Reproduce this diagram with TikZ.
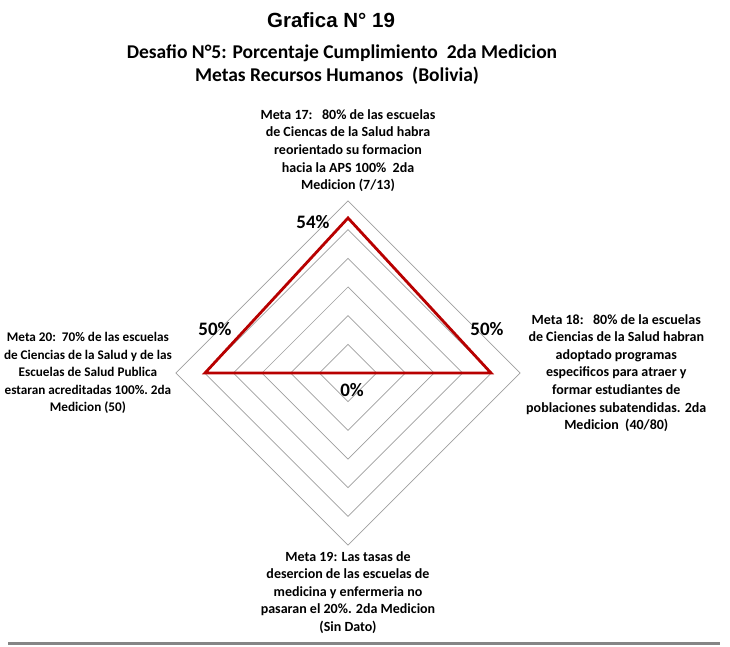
\documentclass[tikz,border=0pt]{standalone}
\usepackage{fontspec}
\setmainfont{Carlito}
\newfontfamily\arialfont{Liberation Sans}
\usetikzlibrary{positioning}

\begin{document}
\begin{tikzpicture}[x=1pt,y=-1pt,
            meta/.style={align=center, inner sep=0pt, font=\bfseries\fontsize{14}{17.6}\selectfont},
            valor/.style={inner sep=0pt, font=\bfseries\fontsize{19}{20}\selectfont},
            anillo/.style={draw=black!38, line width=0.7pt},
            serie/.style={draw=red!72!black, line width=2.8pt, line join=miter},
            titulo/.style={inner sep=0pt, font=\bfseries\fontsize{19.5}{22}\selectfont}
  ]
  \useasboundingbox (0,0) rectangle (730,647);

  % titulos
  \node[inner sep=0pt, font=\arialfont\bfseries\fontsize{20.5}{22}\selectfont] (grafica) at (331,20) {Grafica N° 19};
  \node[titulo] (desafio) at (342,53) {Desafio N°5: Porcentaje Cumplimiento\ \ 2da Medicion};
  \node[titulo] (metas) at (337,76) {Metas Recursos Humanos\ \ (Bolivia)};

  % anillos del radar
  \foreach \r in {1,...,6}
    \draw[anillo] (348,373-28.67*\r) -- (348+28.67*\r,373) -- (348,373+28.67*\r) -- (348-28.67*\r,373) -- cycle;

  \coordinate (norte) at (348,201);
  \coordinate (este) at (520,373);
  \coordinate (sur) at (348,545);
  \coordinate (oeste) at (176,373);

  % serie 2da medicion
  \coordinate (m17) at (348,218);
  \coordinate (m18) at (491,373);
  \coordinate (m19) at (348,373);
  \coordinate (m20) at (205,373);
  \draw[serie] (m17) -- (m18) -- (m19) -- (m20) -- cycle;

  \node[valor] (v17) at (313,222) {54\%};
  \node[valor] (v18) at (487,329) {50\%};
  \node[valor] (v19) at (352,390) {0\%};
  \node[valor] (v20) at (215,329) {50\%};

  % metas
  \node[meta] (meta17) [above=9pt of norte] {Meta 17:\ \ \ 80\% de las escuelas\\de Ciencas de la Salud habra\\reorientado su formacion\\hacia la APS 100\%\ \ 2da\\Medicion (7/13)};
  \node[meta] (meta18) [right=6pt of este] {Meta 18:\ \ \ 80\% de la escuelas\\de Ciencias de la Salud habran\\adoptado programas\\especificos para atraer y\\formar estudiantes de\\poblaciones subatendidas. 2da\\Medicion\ \ (40/80)};
  \node[meta] (meta19) [below=6pt of sur] {Meta 19: Las tasas de\\desercion de las escuelas de\\medicina y enfermeria no\\pasaran el 20\%. 2da Medicion\\(Sin Dato)};
  \node[meta, font=\bfseries\fontsize{13.2}{17.6}\selectfont] (meta20) [left=4pt of oeste] {Meta 20:\ \ 70\% de las escuelas\\de Ciencias de la Salud y de las\\Escuelas de Salud Publica\\estaran acreditadas 100\%.\ 2da\\Medicion (50)};

  % linea inferior
  \coordinate (li) at (8,643);
  \coordinate (ld) at (720,643);
  \draw[black!48, line width=3pt] (li) -- (ld);

\end{tikzpicture}
\end{document}
